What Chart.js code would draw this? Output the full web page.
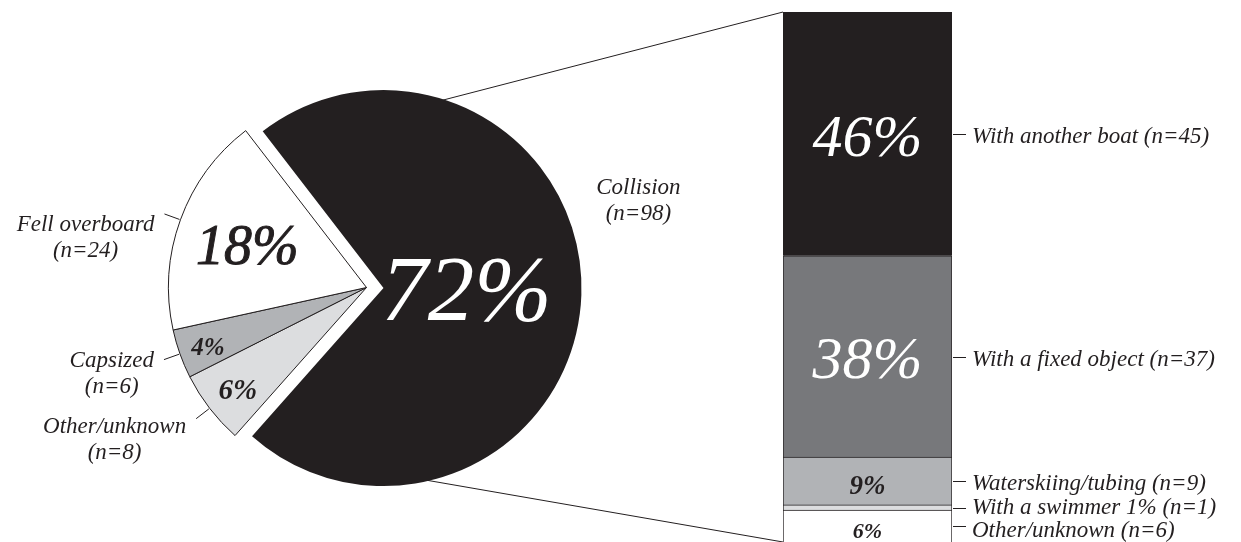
<!DOCTYPE html>
<html>
<head>
<meta charset="utf-8">
<script src="https://cdn.jsdelivr.net/npm/chart.js@4.4.1/dist/chart.umd.min.js"></script>
<style>
  html, body { margin: 0; padding: 0; background: #fff; }
  #wrap { position: relative; width: 1241px; height: 542px; overflow: hidden; }
  #wrap canvas { position: absolute; left: 0; top: 0; }
</style>
</head>
<body>
<div id="wrap">
  <canvas id="barChart" width="1241" height="542"></canvas>
  <canvas id="pieChart" width="1241" height="542"></canvas>
</div>
<script>
// accident types, clockwise from the exploded slice
var pieLabels = ["Collision", "Other/unknown", "Capsized", "Fell overboard"];
var pieCounts = [98, 8, 6, 24];
var piePercent = [72, 6, 4, 18];

// collisions broken down, bottom of the stack first
var barLabels = ["Other/unknown", "With a swimmer", "Waterskiing/tubing", "With a fixed object", "With another boat"];
var barCounts = [6, 1, 9, 37, 45];
var barPercent = [6, 1, 9, 38, 46];

var INK = "#231f20";
var SERIF = "'Liberation Serif', 'DejaVu Serif', serif";

// look of each pie slice (same order as pieLabels)
var sliceStyle = [
  { fill: INK, border: 0, explode: 17, pctColor: "#fff", pctFont: "italic 93px " + SERIF, pctR: 0.42, heavy: false, nameDy: 0 },
  { fill: "#dcdddf", border: 1, explode: 0, pctColor: INK, pctFont: "italic bold 29px " + SERIF, pctR: 0.82, heavy: false, nameDy: 0 },
  { fill: "#b1b3b6", border: 1, explode: 0, pctColor: INK, pctFont: "italic bold 25px " + SERIF, pctR: 0.85, heavy: false, nameDy: -7 },
  { fill: "#ffffff", border: 1, explode: 0, pctColor: INK, pctFont: "italic 56px " + SERIF, pctR: 0.64, heavy: true, nameDy: 3 }
];

// look of each stacked segment (same order as barLabels)
var segStyle = [
  { fill: "#ffffff", pctColor: INK, pctFont: "italic bold 22px " + SERIF },
  { fill: "#dcdddf", pctColor: INK, pctFont: "italic bold 22px " + SERIF },
  { fill: "#b1b3b6", pctColor: INK, pctFont: "italic bold 27px " + SERIF },
  { fill: "#77787b", pctColor: "#fff", pctFont: "italic 60px " + SERIF },
  { fill: INK, pctColor: "#fff", pctFont: "italic 60px " + SERIF }
];

var labelFont = "italic 23px " + SERIF;
var labelGap = 23; // minimum distance between two bar labels

function toRad(d) { return d * Math.PI / 180; }
function midAngle(arc) { return (arc.startAngle + arc.endAngle) / 2; }

// pull the collision slice out along its bisector, keeping its radius
var explode = {
  id: "explode",
  afterUpdate: function (chart) {
    chart.getDatasetMeta(0).data.forEach(function (arc, i) {
      var d = sliceStyle[i].explode;
      if (!d) return;
      var m = midAngle(arc);
      arc.x += Math.cos(m) * d;
      arc.y += Math.sin(m) * d;
    });
  }
};

var pieText = {
  id: "pieText",
  afterDatasetsDraw: function (chart) {
    var ctx = chart.ctx;
    var arcs = chart.getDatasetMeta(0).data;
    ctx.save();
    arcs.forEach(function (arc, i) {
      var m = midAngle(arc);
      var cx = arc.x, cy = arc.y;
      var r = arc.outerRadius;
      var st = sliceStyle[i];

      // percentage inside the slice
      var px = cx + Math.cos(m) * r * st.pctR;
      var py = cy + Math.sin(m) * r * st.pctR + 5;
      ctx.fillStyle = st.pctColor;
      ctx.font = st.pctFont;
      ctx.textAlign = "center";
      ctx.textBaseline = "middle";
      ctx.fillText(piePercent[i] + "%", px, py);
      if (st.heavy) {
        ctx.strokeStyle = st.pctColor;
        ctx.lineWidth = 1;
        ctx.strokeText(piePercent[i] + "%", px, py);
      }

      ctx.font = labelFont;
      ctx.fillStyle = INK;
      var line1 = pieLabels[i];
      var line2 = "(n=" + pieCounts[i] + ")";

      if (i === 0) {
        // big slice: name sits outside, up to the right, no leader
        var a = m - toRad(20);
        var lx = cx + Math.cos(a) * (r + 70);
        var ly = cy + Math.sin(a) * (r + 70);
        ctx.fillText(line1, lx, ly - 17);
        ctx.fillText(line2, lx, ly + 9);
        return;
      }

      // short leader out of the rim, then the two-line name
      var x1 = cx + Math.cos(m) * (r + 1), y1 = cy + Math.sin(m) * (r + 1);
      var x2 = cx + Math.cos(m) * (r + 17), y2 = cy + Math.sin(m) * (r + 17);
      ctx.strokeStyle = INK;
      ctx.lineWidth = 1;
      ctx.beginPath();
      ctx.moveTo(x1, y1);
      ctx.lineTo(x2, y2);
      ctx.stroke();

      var w = Math.max(ctx.measureText(line1).width, ctx.measureText(line2).width);
      var tx = x2 - 10 - w / 2;
      var ty = y2 + 8 + st.nameDy;
      ctx.fillText(line1, tx, ty);
      ctx.fillText(line2, tx, ty + 26);
    });
    ctx.restore();
  }
};

var pieChart = new Chart(document.getElementById("pieChart"), {
  type: "pie",
  data: {
    labels: pieLabels,
    datasets: [{
      data: piePercent,
      backgroundColor: sliceStyle.map(function (s) { return s.fill; }),
      borderColor: INK,
      borderWidth: sliceStyle.map(function (s) { return s.border; })
    }]
  },
  options: {
    responsive: false,
    animation: false,
    rotation: -37.6,
    layout: { padding: { left: 168, top: 89, right: 676, bottom: 56 } },
    plugins: { legend: { display: false }, tooltip: { enabled: false } },
    events: []
  },
  plugins: [explode, pieText]
});

// lines from the exploded slice to the ends of the bar, plus labels on the bar
var barText = {
  id: "barText",
  beforeDatasetsDraw: function (chart) {
    var ctx = chart.ctx;
    var y = chart.scales.y;
    var arc = pieChart.getDatasetMeta(0).data[0];
    var m = midAngle(arc);
    var r = arc.outerRadius - 2;
    var aTop = m - toRad(75), aBot = m + toRad(76);
    ctx.save();
    ctx.strokeStyle = INK;
    ctx.lineWidth = 1;
    ctx.beginPath();
    ctx.moveTo(arc.x + Math.cos(aTop) * r, arc.y + Math.sin(aTop) * r);
    ctx.lineTo(chart.chartArea.left, y.getPixelForValue(100));
    ctx.moveTo(arc.x + Math.cos(aBot) * r, arc.y + Math.sin(aBot) * r);
    ctx.lineTo(chart.chartArea.left, y.getPixelForValue(0));
    ctx.stroke();
    ctx.restore();
  },
  afterDatasetsDraw: function (chart) {
    var ctx = chart.ctx;
    var items = chart.data.datasets.map(function (ds, i) {
      var bar = chart.getDatasetMeta(i).data[0];
      var top = Math.min(bar.y, bar.base), bot = Math.max(bar.y, bar.base);
      var my = (top + bot) / 2;
      return { i: i, bar: bar, h: bot - top, my: my, ty: my + 3 };
    });

    // spread labels that would overlap (items run bottom to top)
    for (var k = 0; k < items.length - 1; k++) {
      var lower = items[k], upper = items[k + 1];
      var need = labelGap - (lower.ty - upper.ty);
      if (need > 0) {
        lower.ty += need / 2;
        upper.ty -= need / 2;
      }
    }

    ctx.save();
    items.forEach(function (it) {
      var i = it.i, bar = it.bar, my = it.my;
      var right = bar.x + bar.width / 2;
      var pct = barPercent[i];
      var st = segStyle[i];
      var name = barLabels[i];

      if (it.h > 12) {
        ctx.fillStyle = st.pctColor;
        ctx.font = st.pctFont;
        ctx.textAlign = "center";
        ctx.textBaseline = "middle";
        ctx.fillText(pct + "%", bar.x, my + 6);
      } else {
        // too thin to hold its number
        name += " " + pct + "%";
      }

      ctx.strokeStyle = INK;
      ctx.lineWidth = 1;
      ctx.beginPath();
      ctx.moveTo(right + 1, Math.round(my) + 0.5);
      ctx.lineTo(right + 14, Math.round(my) + 0.5);
      ctx.stroke();

      ctx.fillStyle = INK;
      ctx.font = labelFont;
      ctx.textAlign = "left";
      ctx.textBaseline = "middle";
      ctx.fillText(name + " (n=" + barCounts[i] + ")", right + 20, it.ty);
    });
    ctx.restore();
  }
};

var barChart = new Chart(document.getElementById("barChart"), {
  type: "bar",
  data: {
    labels: ["Collision"],
    datasets: barLabels.map(function (lab, i) {
      return {
        label: lab,
        data: [barPercent[i]],
        backgroundColor: segStyle[i].fill,
        borderColor: INK,
        borderWidth: { top: 1, left: 1, right: 1, bottom: 0 },
        borderSkipped: false,
        barPercentage: 1,
        categoryPercentage: 1
      };
    })
  },
  options: {
    responsive: false,
    animation: false,
    layout: { padding: { left: 783, right: 289, top: 12, bottom: 0 } },
    scales: {
      x: { stacked: true, display: false },
      y: { stacked: true, display: false, min: 0, max: 100 }
    },
    plugins: { legend: { display: false }, tooltip: { enabled: false } },
    events: []
  },
  plugins: [barText]
});
</script>
</body>
</html>
